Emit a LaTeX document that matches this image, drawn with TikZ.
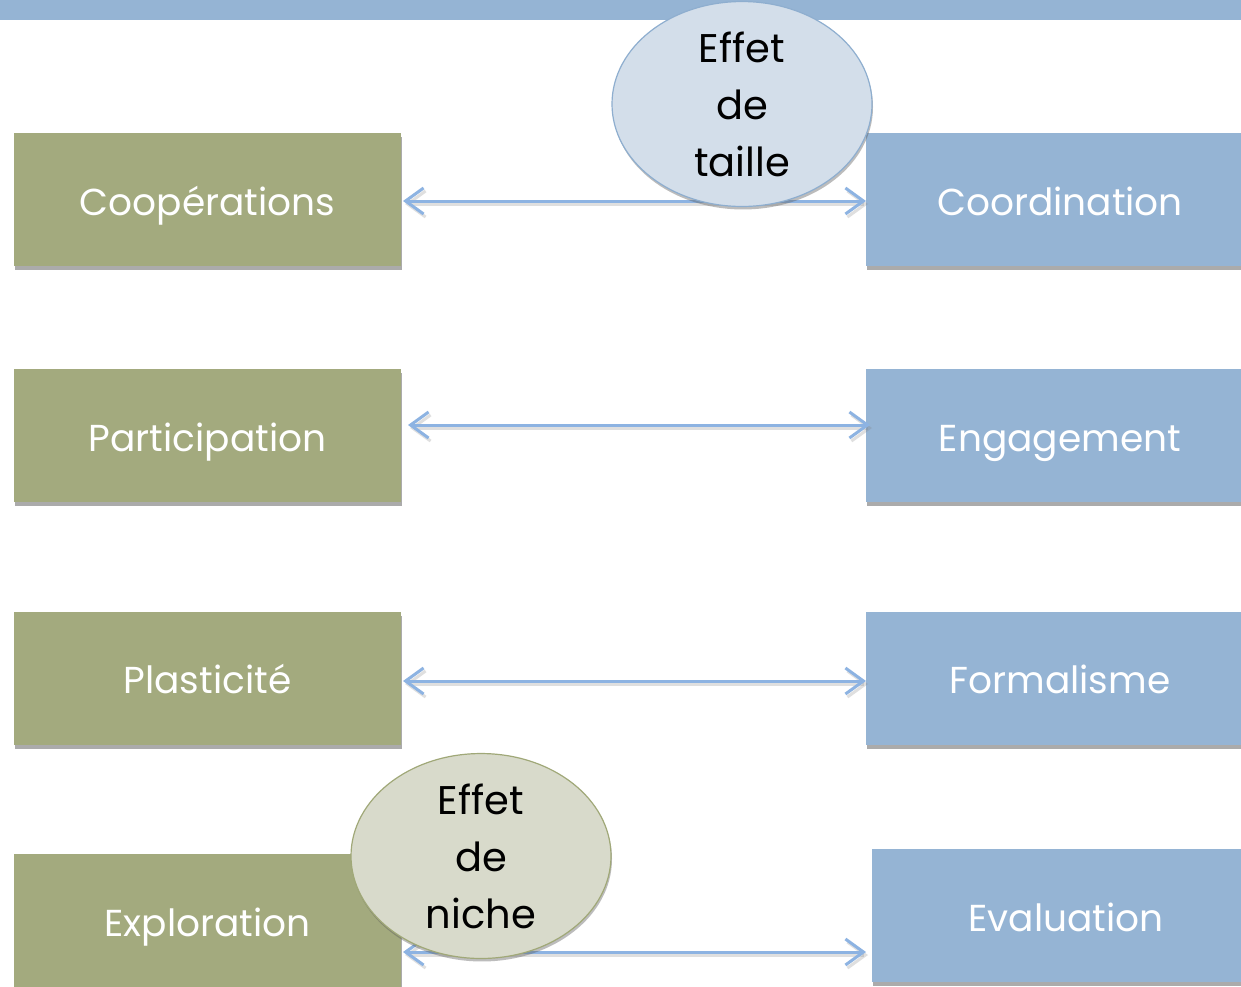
\documentclass[tikz,border=0pt]{standalone}
\usepackage{fontspec}
\setmainfont{Poppins}
\usetikzlibrary{shapes.geometric,shadows,arrows.meta}
\definecolor{boxgreen}{HTML}{A3AA7E}
\definecolor{boxblue}{HTML}{95B4D4}
\definecolor{barblue}{HTML}{95B4D4}
\definecolor{arrowblue}{HTML}{8DB3E2}
\definecolor{ellblue}{HTML}{D3DEEA}
\definecolor{ellblueedge}{HTML}{8EAECF}
\definecolor{ellgreen}{HTML}{D8DACB}
\definecolor{ellgreenedge}{HTML}{A0A878}
\tikzset{
  boxshadow/.style={drop shadow={shadow xshift=1pt,shadow yshift=-4pt,opacity=0.55,fill=gray!80!black}},
  greenbox/.style={rectangle,fill=boxgreen,minimum width=387pt,minimum height=133pt,inner sep=0pt,
    text=white,font=\fontsize{37.5}{44}\selectfont,text height=31pt,text depth=0pt,boxshadow},
  bluebox/.style={rectangle,fill=boxblue,minimum width=388pt,minimum height=133pt,inner sep=0pt,
    text=white,font=\fontsize{37.5}{44}\selectfont,text height=31pt,text depth=0pt,boxshadow},
  effell/.style={ellipse,minimum width=260pt,minimum height=190pt,inner sep=0pt,line width=1.2pt,
    align=center,font=\fontsize{40}{57}\selectfont,text=black,
    drop shadow={shadow xshift=1pt,shadow yshift=-3pt,opacity=0.4,fill=gray!70!black}},
  link/.style={line width=3pt,draw=arrowblue,{Straight Barb[length=18pt,width=26pt,line width=3pt]}-{Straight Barb[length=18pt,width=26pt,line width=3pt]}},
  linkshadow/.style={line width=3pt,draw=gray,opacity=0.25,{Straight Barb[length=18pt,width=26pt,line width=3pt]}-{Straight Barb[length=18pt,width=26pt,line width=3pt]}},
}
\begin{document}
\begin{tikzpicture}[x=1pt,y=-1pt]
\useasboundingbox (0,0) rectangle (1241,986);
\fill[white] (0,0) rectangle (1241,986);
\fill[barblue] (0,0) rectangle (1241,20);

\node[greenbox] (coop) at (207.5,199.5) {Coopérations};
\node[bluebox] (coord) at (1060,199.5) {Coordination};
\node[greenbox] (part) at (207.5,435.5) {Participation};
\node[bluebox] (eng) at (1060,435.5) {Engagement};
\node[greenbox] (plas) at (207.5,678) {Plasticité};
\node[bluebox] (form) at (1060,678) {Formalisme};
\node[greenbox] (expl) at (207.5,920.5) {Exploration};
\node[bluebox] (eval) at (1066,915.5) {Evaluation};

\coordinate (a1l) at (403,201); \coordinate (a1r) at (866,201);
\coordinate (a2l) at (408,425); \coordinate (a2r) at (870,425);
\coordinate (a3l) at (403,681); \coordinate (a3r) at (866,681);
\coordinate (a4l) at (403,952); \coordinate (a4r) at (866,952);

\foreach \l/\r in {a1l/a1r,a2l/a2r,a3l/a3r,a4l/a4r}{
  \draw[linkshadow,transform canvas={xshift=2pt,yshift=-3pt}] (\l) -- (\r);
  \draw[link] (\l) -- (\r);
}

\node[effell,fill=ellblue,draw=ellblueedge] (taille) at (742,104) {Effet\\de\\taille};
\node[effell,fill=ellgreen,draw=ellgreenedge] (niche) at (481,856) {Effet\\de\\niche};
\end{tikzpicture}
\end{document}
